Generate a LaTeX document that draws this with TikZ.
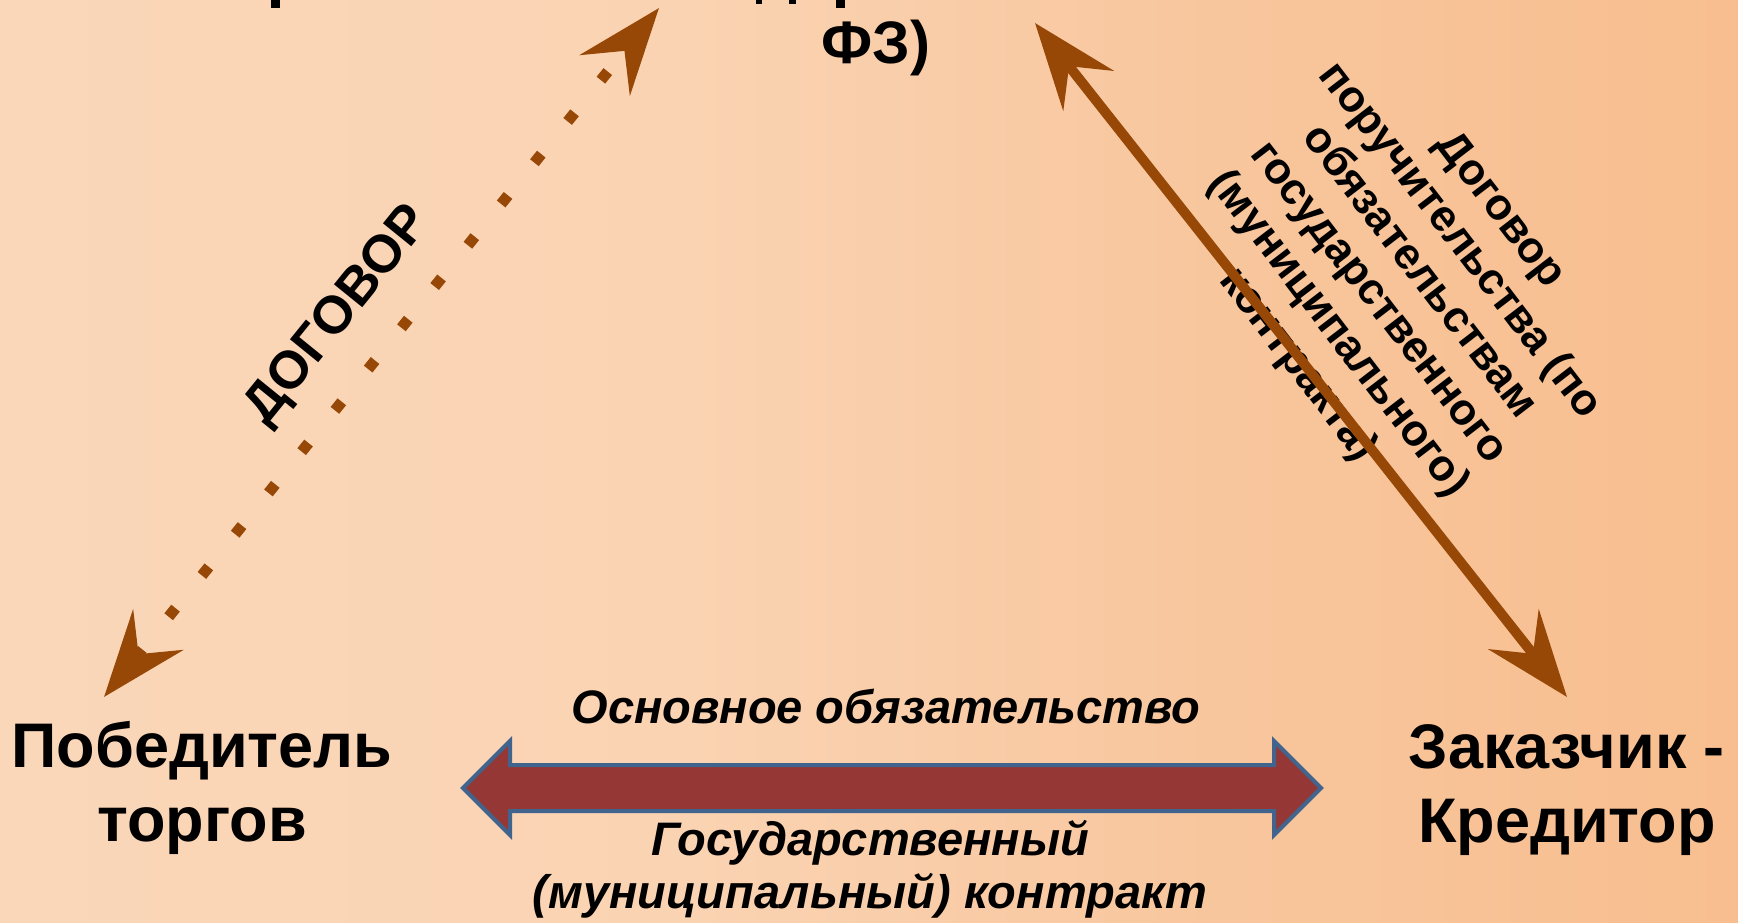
\documentclass[tikz,border=0pt]{standalone}
\usepackage{fontspec}
\setmainfont{Liberation Sans}
\usetikzlibrary{arrows.meta}
\definecolor{bgA}{RGB}{250,215,185}
\definecolor{bgB}{RGB}{250,211,178}
\definecolor{bgC}{RGB}{248,198,157}
\definecolor{bgD}{RGB}{248,190,143}
\definecolor{brn}{RGB}{151,72,6}
\definecolor{bigred}{RGB}{149,55,53}
\definecolor{bigedge}{RGB}{65,100,143}
\pgfdeclarehorizontalshading{bgshade}{100bp}{color(0bp)=(bgA); color(25bp)=(bgA); color(45bp)=(bgB); color(60bp)=(bgC); color(75bp)=(bgD); color(100bp)=(bgD)}
\begin{document}
\begin{tikzpicture}[x=1pt,y=-1pt,
  lbl/.style={font=\fontsize{63}{74}\selectfont\bfseries, align=center, inner sep=0pt},
  itl/.style={font=\fontsize{47}{53}\selectfont\bfseries\itshape, align=center, inner sep=0pt},
  rottxt/.style={font=\fontsize{44}{51}\selectfont\bfseries, align=center, inner sep=0pt},
  >={Stealth[length=86pt,width=64pt,inset=31pt]},
  dotarrow/.style={brn, line width=11pt, dash pattern=on 11pt off 42pt, <->},
  solidarrow/.style={brn, line width=10pt, <->},
  bigarrow/.style={fill=bigred, draw=bigedge, line width=4pt, line join=miter},
  desc/.style={fill=black}]
\shade[shading=bgshade] (0,0) rectangle (1738,922);
\useasboundingbox (0,0) rectangle (1738,922);

% fragments of the cut-off top line
\fill[desc] (271,0) rectangle (280,8);
\fill[desc] (756,0) rectangle (762,4);
\fill[desc] (789,0) rectangle (796,4);
\fill[desc] (836,0) rectangle (845,8);
\node[lbl, anchor=base, font=\fontsize{60}{70}\selectfont\bfseries] (fz) at (876,63) {ФЗ)};

\node[lbl] (win) at (202,788) {Победитель\\торгов};
\node[lbl] (cust) at (1567,790) {Заказчик -\\Кредитор};

\node[itl, anchor=base] (main) at (886,723) {Основное обязательство};
\node[itl] (contract) at (870,869) {Государственный\\(муниципальный) контракт};

\node[lbl, font=\fontsize{53}{60}\selectfont\bfseries, rotate=51] (dog) at (339,316) {ДОГОВОР};
\node[rottxt, rotate=-52.5] (sur) at (1398,288) {Договор\\поручительства (по\\обязательствам\\государственного\\(муниципального)\\контракта)};

\coordinate (dA) at (104,697);
\coordinate (dB) at (659,8);
\coordinate (sA) at (1035,23);
\coordinate (sB) at (1567,697);
\draw[dotarrow] (dA) -- (dB);
\draw[solidarrow] (sA) -- (sB);

\coordinate (bL) at (463,788);
\coordinate (bR) at (1321,788);
\draw[bigarrow] (bL) -- ++(47,-47) -- ++(0,24) -- (1274,765) -- ++(0,-24) -- (bR)
  -- ++(-47,47) -- ++(0,-24) -- (510,811) -- ++(0,24) -- cycle;
\end{tikzpicture}
\end{document}
